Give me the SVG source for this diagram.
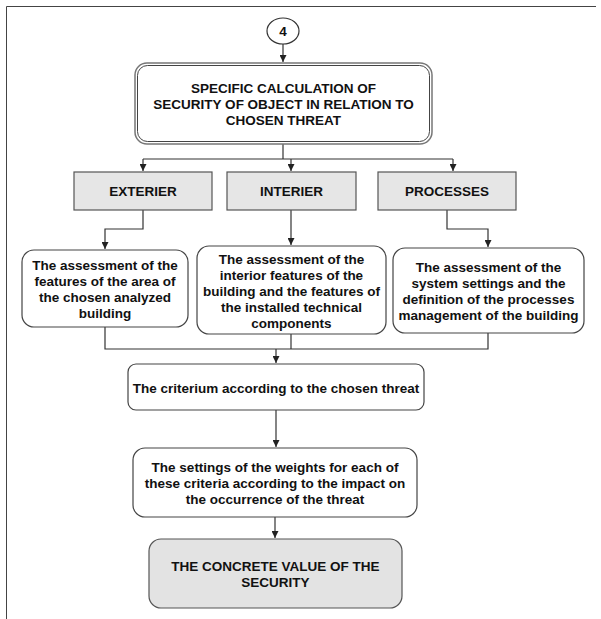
<svg xmlns="http://www.w3.org/2000/svg" width="601" height="619" viewBox="0 0 601 619">
<defs>
<marker id="arr" viewBox="0 0 8 8" refX="8" refY="4" markerWidth="7" markerHeight="7" markerUnits="userSpaceOnUse" orient="auto">
<path d="M0,0 L8,4 L0,8 Z" fill="#222"/>
</marker>
<style>
text{font-family:"Liberation Sans",Arial,sans-serif;font-weight:bold;font-size:13.5px;fill:#111;text-anchor:middle}
.conn{fill:none;stroke:#333;stroke-width:1.2}
.rbox{fill:#fff;stroke:#444;stroke-width:1.2}
.gbox{fill:#e6e6e6;stroke:#555;stroke-width:1.2}
.frame{fill:none;stroke:#444;stroke-width:1}
</style>
</defs>
<rect width="601" height="619" fill="#fff"/>
<path class="frame" d="M6.5,619 V6.5 H596"/>

<g id="connectors">
<path class="conn" d="M283,44 V62" marker-end="url(#arr)"/>
<path class="conn" d="M283,144 V159"/>
<path class="conn" d="M143,159 H453"/>
<path class="conn" d="M143,159 V171" marker-end="url(#arr)"/>
<path class="conn" d="M291,159 V171" marker-end="url(#arr)"/>
<path class="conn" d="M453,159 V171" marker-end="url(#arr)"/>
<path class="conn" d="M143,210 V229 H105 V249" marker-end="url(#arr)"/>
<path class="conn" d="M291,210 V245" marker-end="url(#arr)"/>
<path class="conn" d="M447,210 V229 H488 V247" marker-end="url(#arr)"/>
<path class="conn" d="M105,327 V349 H488 V333"/>
<path class="conn" d="M291,334 V349"/>
<path class="conn" d="M276,349 V363" marker-end="url(#arr)"/>
<path class="conn" d="M276,410 V447" marker-end="url(#arr)"/>
<path class="conn" d="M275,517 V538" marker-end="url(#arr)"/>
</g>

<g id="start">
<ellipse cx="283" cy="31" rx="16" ry="13" fill="#fff" stroke="#333" stroke-width="1.2"/>
<text x="283" y="36">4</text>
</g>

<g id="specific">
<rect x="135" y="63" width="297" height="81" rx="12" fill="#fff" stroke="#777" stroke-width="1.5"/>
<rect x="137.5" y="65.5" width="292" height="76" rx="10" fill="none" stroke="#444" stroke-width="1"/>
<text x="283.5" y="93">SPECIFIC CALCULATION OF</text>
<text x="283.5" y="109">SECURITY OF OBJECT IN RELATION TO</text>
<text x="283.5" y="125">CHOSEN THREAT</text>
</g>

<g id="exterier">
<rect class="gbox" x="74" y="172" width="138" height="38"/>
<text x="143" y="196">EXTERIER</text>
</g>
<g id="interier">
<rect class="gbox" x="227" y="172" width="129" height="38"/>
<text x="291.5" y="196">INTERIER</text>
</g>
<g id="processes">
<rect class="gbox" x="378" y="172" width="138" height="38"/>
<text x="447" y="196">PROCESSES</text>
</g>

<g id="ext-assess">
<rect class="rbox" x="22" y="250" width="166" height="77" rx="12"/>
<text x="105" y="270">The assessment of the</text>
<text x="105" y="286">features of the area of</text>
<text x="105" y="302">the chosen analyzed</text>
<text x="105" y="318">building</text>
</g>

<g id="int-assess">
<rect class="rbox" x="197" y="246" width="189" height="88" rx="12"/>
<text x="291.5" y="264">The assessment of the</text>
<text x="291.5" y="280">interior features of the</text>
<text x="291.5" y="296">building and the features of</text>
<text x="291.5" y="312">the installed technical</text>
<text x="291.5" y="328">components</text>
</g>

<g id="proc-assess">
<rect class="rbox" x="393" y="248" width="191" height="85" rx="12"/>
<text x="488.5" y="272">The assessment of the</text>
<text x="488.5" y="288">system settings and the</text>
<text x="488.5" y="304">definition of the processes</text>
<text x="488.5" y="320">management of the building</text>
</g>

<g id="criterium">
<rect class="rbox" x="128" y="364" width="296" height="46" rx="8"/>
<text x="276" y="393">The criterium according to the chosen threat</text>
</g>

<g id="weights">
<rect class="rbox" x="133" y="448" width="284" height="69" rx="12"/>
<text x="275" y="472">The settings of the weights for each of</text>
<text x="275" y="488">these criteria according to the impact on</text>
<text x="275" y="504">the occurrence of the threat</text>
</g>

<g id="result">
<rect x="149" y="539" width="253" height="69" rx="12" fill="#e3e3e3" stroke="#555" stroke-width="1.2"/>
<text x="275.5" y="571">THE CONCRETE VALUE OF THE</text>
<text x="275.5" y="587">SECURITY</text>
</g>
</svg>
